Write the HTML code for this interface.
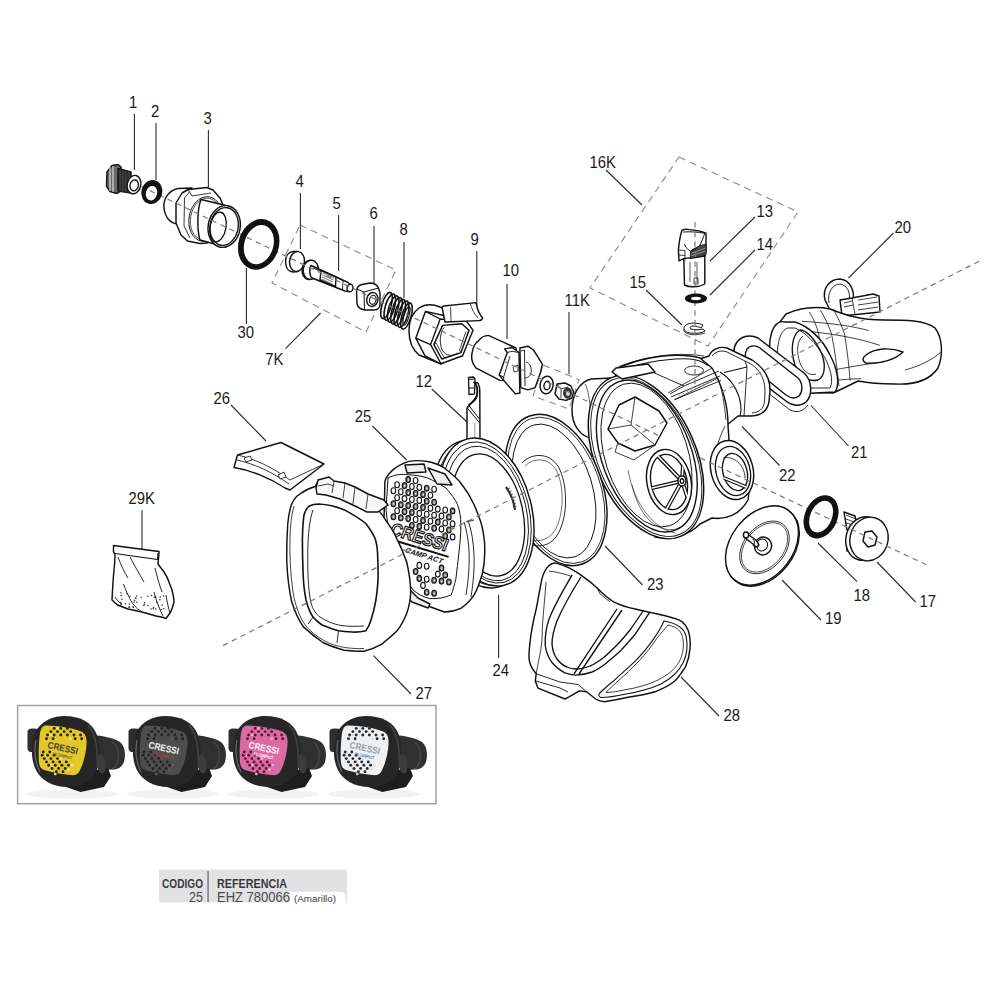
<!DOCTYPE html>
<html><head><meta charset="utf-8">
<style>
html,body{margin:0;padding:0;background:#fff;width:1000px;height:1000px;overflow:hidden}
svg{display:block}
text{font-family:"Liberation Sans",sans-serif;fill:#1a1a1a}
.lb{font-size:16px}
.ld{stroke:#2a2a2a;stroke-width:1.1;fill:none}
.ax{stroke:#7a7a7a;stroke-width:1.2;stroke-dasharray:5.5 4.3;fill:none}
.bx{stroke:#8a8a8a;stroke-width:1.1;stroke-dasharray:7 5;fill:none}
.o{stroke:#111;stroke-width:1.45;fill:#fff;stroke-linejoin:round}
.on{stroke:#111;stroke-width:1.35;fill:none;stroke-linejoin:round}
.t{stroke:#222;stroke-width:.9;fill:none}
.tw{stroke:#222;stroke-width:.9;fill:#fff}
.ring{stroke:#111;fill:none}
</style></head><body>
<svg width="1000" height="1000" viewBox="0 0 1000 1000">

<!-- DASHED KIT BOXES -->
<g id="boxes">
<polygon class="bx" points="300,225 396,270 366,332 272,283"/>
<polygon class="bx" points="679,157 798,212 708,346 590,288"/>
<polygon class="bx" points="543,365 579,379.5 569,409 533,396"/>
</g>
<!-- LEADERS -->
<g id="leaders">
<line class="ld" x1="134.4" y1="114" x2="134.4" y2="170"/>
<line class="ld" x1="156" y1="123" x2="156" y2="180"/>
<line class="ld" x1="208.4" y1="130" x2="208.4" y2="187"/>
<line class="ld" x1="300.4" y1="193" x2="300.4" y2="249"/>
<line class="ld" x1="338.6" y1="215" x2="338.6" y2="271"/>
<line class="ld" x1="374" y1="226" x2="374" y2="283"/>
<line class="ld" x1="404" y1="242" x2="404" y2="298"/>
<line class="ld" x1="476.8" y1="251" x2="476.8" y2="308"/>
<line class="ld" x1="507" y1="284" x2="507" y2="339"/>
<line class="ld" x1="569" y1="312" x2="569" y2="374"/>
<line class="ld" x1="246.4" y1="268" x2="246.4" y2="324"/>
<line class="ld" x1="285.5" y1="348.6" x2="320.6" y2="313"/>
<line class="ld" x1="431.8" y1="389" x2="467" y2="422"/>
<line class="ld" x1="606" y1="170" x2="642" y2="205"/>
<line class="ld" x1="755" y1="217" x2="710" y2="261"/>
<line class="ld" x1="755" y1="250" x2="710" y2="295"/>
<line class="ld" x1="646" y1="290" x2="682" y2="325"/>
<line class="ld" x1="893.5" y1="233" x2="848.5" y2="278"/>
<line class="ld" x1="848.5" y1="446" x2="811" y2="405.5"/>
<line class="ld" x1="779.5" y1="465.5" x2="742" y2="426.5"/>
<line class="ld" x1="642.5" y1="585" x2="605" y2="546"/>
<line class="ld" x1="719" y1="716" x2="681" y2="677"/>
<line class="ld" x1="821" y1="620" x2="782" y2="580"/>
<line class="ld" x1="857" y1="581.6" x2="818" y2="543"/>
<line class="ld" x1="915.6" y1="602" x2="877" y2="562"/>
<line class="ld" x1="231" y1="405" x2="266" y2="441"/>
<line class="ld" x1="142" y1="510" x2="142" y2="560"/>
<line class="ld" x1="372.4" y1="426" x2="406.6" y2="460"/>
<line class="ld" x1="498.6" y1="595" x2="498.6" y2="658"/>
<line class="ld" x1="411" y1="694" x2="373.5" y2="655.6"/>
</g>
<!-- LABELS -->
<g id="labels" class="lb">
<text transform="translate(129 108) scale(0.93 1)">1</text>
<text transform="translate(151 117) scale(0.93 1)">2</text>
<text transform="translate(203.5 124) scale(0.93 1)">3</text>
<text transform="translate(295.5 187) scale(0.93 1)">4</text>
<text transform="translate(332.5 209) scale(0.93 1)">5</text>
<text transform="translate(369.5 219) scale(0.93 1)">6</text>
<text transform="translate(399.5 235) scale(0.93 1)">8</text>
<text transform="translate(470.5 245) scale(0.93 1)">9</text>
<text transform="translate(502.5 276) scale(0.93 1)">10</text>
<text transform="translate(564.5 306) scale(0.93 1)">11K</text>
<text transform="translate(415.5 387) scale(0.93 1)">12</text>
<text transform="translate(756.5 217) scale(0.93 1)">13</text>
<text transform="translate(756.5 250) scale(0.93 1)">14</text>
<text transform="translate(629.5 288) scale(0.93 1)">15</text>
<text transform="translate(589.5 168) scale(0.93 1)">16K</text>
<text transform="translate(919.5 607) scale(0.93 1)">17</text>
<text transform="translate(853.5 601) scale(0.93 1)">18</text>
<text transform="translate(825 623.6) scale(0.93 1)">19</text>
<text transform="translate(894.5 233) scale(0.93 1)">20</text>
<text transform="translate(851 458) scale(0.93 1)">21</text>
<text transform="translate(779 480.5) scale(0.93 1)">22</text>
<text transform="translate(647 590) scale(0.93 1)">23</text>
<text transform="translate(492.5 676.3) scale(0.93 1)">24</text>
<text transform="translate(354.8 422.3) scale(0.93 1)">25</text>
<text transform="translate(213.5 404) scale(0.93 1)">26</text>
<text transform="translate(415.5 698.8) scale(0.93 1)">27</text>
<text transform="translate(723.5 721) scale(0.93 1)">28</text>
<text transform="translate(128.5 504) scale(0.93 1)">29K</text>
<text transform="translate(237.5 338) scale(0.93 1)">30</text>
<text transform="translate(265.2 364.8) scale(0.93 1)">7K</text>
</g>



<g id="p20">
<path class="o" d="M825,300 C822,288 830,279 840,279 C850,280 855,290 853,302 L850,312 L832,314 Z"/>
<path class="on" d="M829,303 C827,292 833,284 840,284 C847,285 851,292 849,302" style="stroke-width:.9"/>
<path class="o" d="M840,300 L852,298 L873,294 L879,296 L880,312 L842,316 Z"/>
<path class="on" d="M852,298 L855,314 M844,303 L852,301 M844,307 L853,305 M858,300 L877,297 M858,305 L878,302 M858,310 L878,307" style="stroke-width:.8"/>
<path class="o" d="M786,314 C800,308 815,306 830,309 C845,315 860,320 884,320 C905,320 925,320 935,328 C943,338 943,356 938,368 C930,380 915,385 895,384 C880,384 868,383 858,381 C850,385 840,390 833,393 L790,392 C778,380 772,350 774,330 Z"/>
<path class="on" d="M798.3,330.5 C830,333 858,338 879.7,345.3 M802,321.3 C830,323 852,326 868.6,330.5 M826,371.2 C845,368 865,364 883.4,362 M820.5,382.3 C835,380 850,379 861.2,378.6" style="stroke-width:.8"/>
<path class="on" d="M809.4,312 C813,318 817,326 818.7,334.2 C821,350 823,370 824.2,386 M820.5,310.2 C825,318 829,326 831.6,334.2 C835,350 837,370 839,386 M833.5,309.2 C838,318 842,326 844.6,334.2 C847,350 849,365 850.1,380.5" style="stroke-width:.8"/>
<path class="on" d="M905,370 C920,366 932,360 941,352" style="stroke-width:.8"/>
<path class="o" d="M866,355 C875,348 890,347 903,352 C895,360 880,364 866,363 C862,361 862,358 866,355 Z"/>
<path class="o" d="M785,322 C778,320 772,326 770,340 C768,360 772,385 780,390 C786,394 800,394 815,393 L835,392 C840,385 838,370 830,355 C822,338 808,326 795,322 Z"/>
<path class="on" d="M788,328 C780,330 776,345 778,362 C780,378 785,386 792,388 L830,388 C834,380 830,368 825,358 C815,342 805,332 795,328 Z" style="stroke-width:.9"/>
<path class="on" d="M800,330 C792,335 790,350 795,365 C800,378 810,382 818,380 C826,376 826,362 820,350 C814,338 806,330 800,330 Z"/>
<path class="on" d="M803,336 C797,340 796,352 800,363 C804,373 811,376 816,374" style="stroke-width:.8"/>

</g>
<g id="p21">
<path class="o" d="M737,342 C742,336 750,334 758,338 L804,373 C812,380 813,395 806,402 C800,407 792,406 786,401 L740,366 C733,360 732,349 737,342 Z"/>
<path class="on" d="M747,349 C750,345 756,345 760,348 L798,378 C803,383 803,392 799,396 C795,399 790,398 786,395 L750,366 C745,362 744,354 747,349 Z"/>
<path class="on" d="M733,352 C732,362 736,370 745,375 L790,410 C796,413 803,412 808,405" style="stroke-width:.9"/>
</g>
<g id="p22">
<!-- outlet tube -->
<path class="o" d="M690,362 L709,356 C712,349 720,346 727,348 L752,360 C763,367 770,377 770,390 L769,402 C767,412 760,416 750,416 L738,416 L727,425 L700,430 Z"/>
<path class="on" d="M712,356 C716,351 722,350 727,352 L751,364 C760,370 765,379 765,391 L764.5,402 C763.5,409 759,412.5 752,413 M745,361 L747,367 L744,416" style="stroke-width:.9"/>
<path class="on" d="M720,372 C733,380 741,395 741,410 L740,416 M724,372.5 L747,367" style="stroke-width:1.1"/>
<path class="on" d="M703,361 C712,372 718,395 716,420 M700,366 C706,378 710,395 710,422" style="stroke-width:.8"/>
<!-- back cylinder -->
<path class="o" d="M612,378 L591,379 C579,382 572,395 572,410 C572,425 580,437 594,439 L612,436 Z"/>
<path class="on" d="M585,384 C590,392 592,420 590,436" style="stroke-width:.7"/>
<!-- housing -->
<path class="o" d="M615,370 C640,356 680,352 700,358 L712,368 C722,385 728,405 728,425 L729,440 C740,460 752,480 748,500 C740,515 725,520 712,518 L700,524 C690,535 670,540 655,537 L640,500 L620,420 Z"/>
<path class="on" d="M615,370 L620,366 C650,355 680,352 704,356 M668,393 L712,368 M674,400 L718,378 C722,390 724,400 726,420 M725,426 C718,440 716,450 714,460" style="stroke-width:.8"/>
<path class="on" d="M615,372 C630,366 650,361 675,359 C690,358 700,359 708,365.6" style="stroke-width:1.1"/>
<ellipse class="on" cx="694" cy="370.5" rx="9.5" ry="4.5" style="stroke-width:.9"/>
<path class="on" d="M643,368 L684,386 L670,394 M684,386 L719,371" style="stroke-width:.9"/>
<path class="on" d="M671,397 L720,376 M675,399.5 L721,380.5" style="stroke-width:.9"/>
<path d="M678,393 l2,3 M682,391.3 l2,3 M686,389.6 l2,3 M690,387.9 l2,3 M694,386.2 l2,3 M698,384.5 l2,3 M702,382.8 l2,3 M706,381.1 l2,3 M710,379.4 l2,3 M714,377.7 l2,3" stroke="#666" stroke-width=".6"/>
<!-- exhaust port -->
<ellipse class="o" cx="732" cy="470" rx="21" ry="30" transform="rotate(-15 732 470)"/>
<ellipse class="on" cx="733" cy="471" rx="17" ry="25" transform="rotate(-15 733 471)"/>
<ellipse class="on" cx="735" cy="472" rx="12" ry="19" transform="rotate(-15 735 472)"/>
<path class="on" d="M723,458 C733,455 745,465 745,478" style="stroke-width:.8"/>
<path d="M724,478 L746,487" stroke="#111" stroke-width="3.6"/><path d="M724,478 L746,487" stroke="#fff" stroke-width="1.4"/>
<!-- front ring -->
<ellipse class="o" cx="646" cy="457" rx="50" ry="86.6" transform="rotate(-24 646 457)" style="stroke-width:1.5"/>
<ellipse class="on" cx="646.3" cy="457" rx="47.8" ry="84.3" transform="rotate(-24 646.3 457)" style="stroke-width:.9"/>
<ellipse class="on" cx="646.8" cy="456" rx="44.5" ry="79.5" transform="rotate(-21 646.8 456)" style="stroke-width:1.4"/>
<ellipse class="on" cx="646.5" cy="455" rx="41.4" ry="74.4" transform="rotate(-18 646.5 455)" style="stroke-width:.9"/>
<path class="o" d="M612,372 L616,368 L648,364 L655,372 L622,379 Z" style="fill:#fff"/>
<!-- inner hex -->
<path class="o" d="M608,429 L619,405 L635,397 L659,411 L667,423 L655,445 L635,451 L618,443 Z"/>
<path class="on" d="M635,397 L631,425 L608,429 M631,425 L655,445 M618,443 L615,452 L634,460 L655,445" style="stroke-width:.8"/>
<!-- wheel -->
<ellipse class="o" cx="669" cy="482" rx="22" ry="33" transform="rotate(-12 669 482)"/>
<ellipse class="on" cx="669" cy="482" rx="18" ry="28" transform="rotate(-12 669 482)"/>
<clipPath id="wcl"><ellipse cx="669" cy="482" rx="18.5" ry="28.5" transform="rotate(-12 669 482)"/></clipPath>
<g clip-path="url(#wcl)">
<path d="M682,481 L658,456 M682,481 L648,489 M682,481 L665,512 M682,481 L684,450 M682,481 L691,508" stroke="#111" stroke-width="4" fill="none"/>
<path d="M682,481 L658,456 M682,481 L648,489 M682,481 L665,512 M682,481 L684,450 M682,481 L691,508" stroke="#fff" stroke-width="1.6" fill="none"/>
</g>
<ellipse class="o" cx="682" cy="481" rx="4" ry="5"/>
<ellipse class="on" cx="682" cy="481" rx="1.8" ry="2.3"/>
<path class="on" d="M632,485 C640,520 660,535 680,528 M628,470 C634,505 655,530 676,533" style="stroke-width:.6"/>
</g>
<!-- PARTS: upper left -->
<g id="p1">
<path class="o" d="M107,172 L112,165.5 L118,164.5 L121,167 L121,191 L117,193.5 L110,191.5 L106.5,186 Z" style="fill:#6a6a6a"/>
<path class="t" d="M110,167 L110,191 M113,166 L113,192" style="stroke:#eee;stroke-width:1"/>
<path class="o" d="M118,168.5 L131,172 L131,193 L118,191 Z" style="fill:#2a2a2a"/>
<path d="M120,169.5 L120,191.5 M123,170 L123,192 M126,171 L126,192.5 M129,171.5 L129,193" stroke="#555" stroke-width=".8"/>
<ellipse class="o" cx="134" cy="184.6" rx="6.8" ry="9.3" transform="rotate(12 134 184.6)"/>
<ellipse class="on" cx="134.3" cy="185.3" rx="4.2" ry="5.5" transform="rotate(12 134 185)"/>
</g>

<g id="p3">
<path class="o" d="M192,188 L178,188.5 C169,190 163,199 164,208 C165,217 170,223.5 178,224 L190,224 Z"/>
<path class="o" d="M182,193 L188,189.5 L207,187.5 L213,190 L220,198 L223,205 L222,235 L207,243 L200,243.5 L187.5,241 L181,235 L176,223 L176,203 Z"/>
<path class="t" d="M184.5,198 L184,226 M184,226 L190,238 M184.5,198 L190,191.5 M188,189.5 L192,196 L211,193"/>
<ellipse class="on" cx="205.5" cy="219" rx="16.5" ry="22.5" transform="rotate(10 205.5 219)" style="stroke-width:.9"/>
<ellipse class="on" cx="205.5" cy="219" rx="15" ry="21" transform="rotate(10 205.5 219)" style="stroke-width:.7"/>
<path class="o" d="M201,199.5 L226,205.5 L226,247 L200,240 C197,230 197,210 201,199.5 Z"/>
<ellipse class="o" cx="224.2" cy="226.5" rx="16" ry="21" transform="rotate(10 224.2 226.5)"/>
<ellipse class="on" cx="224.2" cy="226.5" rx="14" ry="19" transform="rotate(10 224.2 226.5)"/>
<ellipse class="on" cx="218" cy="227" rx="8" ry="15" transform="rotate(10 218 227)"/>
</g>


<g id="p4">
<path class="o" d="M293,251.5 L298,251.5 L298,271.5 L293,272 C288,271.5 285.5,267 285.6,261.5 C285.7,256 288.5,252 293,251.5 Z"/>
<ellipse class="o" cx="297" cy="261.5" rx="7.4" ry="10" transform="rotate(8 297 261.5)"/>
</g>
<g id="p5">
<ellipse class="o" cx="309.5" cy="270" rx="7.4" ry="9.6" transform="rotate(8 309.5 270)"/>
<ellipse class="o" cx="310.8" cy="269.8" rx="7.6" ry="9.6" transform="rotate(8 310.8 269.8)"/>
<path class="o" d="M311,265.5 L348,282.5 L351,285 L348,291.5 L345,291 L312,278 C309.5,276 309,268 311,265.5 Z"/>
<path class="o" d="M321,270.5 L336,277 L335.5,286.5 L320,280 Z" style="fill:#fff"/>
<path d="M323,273 l11,5 M322.5,275 l11,5 M322,277 l11,5 M321.5,279 l11,5" stroke="#444" stroke-width=".7"/>
<path class="on" d="M336,277 L343,280.5 L342.5,289.5 M313,268 L320,271" style="stroke-width:.9"/>
<ellipse class="o" cx="350" cy="288" rx="3" ry="3.8" transform="rotate(10 350 288)"/>
</g>
<g id="p6">
<path class="o" d="M356.5,291 C357,287 359,285 362,284.5 L370,283 C374,283 377,285 378.5,288 L380,293 L380,305 C379.5,308 377.5,310 374,310 L365,310 C361,309.5 358,307.5 357,304 Z"/>
<path class="on" d="M357,289 L364,292 L378.5,288 M364,292 L364.5,309.5" style="stroke-width:1"/>
<ellipse class="o" cx="372.3" cy="299.5" rx="5.6" ry="7" transform="rotate(12 372.3 299.5)"/>
<ellipse class="on" cx="372.8" cy="299.8" rx="3.2" ry="4.6" transform="rotate(12 372.8 299.8)" style="stroke-width:1.1"/>
</g>
<g id="p8">
<ellipse cx="386.5" cy="305.5" rx="4.6" ry="13.6" transform="rotate(16 386.5 305.5)" fill="none" stroke="#111" stroke-width="1.6"/>
<ellipse cx="389.8" cy="307.2" rx="4.6" ry="13.6" transform="rotate(16 389.8 307.2)" fill="none" stroke="#111" stroke-width="1.6"/>
<ellipse cx="393.2" cy="309.0" rx="4.6" ry="13.6" transform="rotate(16 393.2 309.0)" fill="none" stroke="#111" stroke-width="1.6"/>
<ellipse cx="396.5" cy="310.8" rx="4.6" ry="13.6" transform="rotate(16 396.5 310.8)" fill="none" stroke="#111" stroke-width="1.6"/>
<ellipse cx="399.8" cy="312.5" rx="4.6" ry="13.6" transform="rotate(16 399.8 312.5)" fill="none" stroke="#111" stroke-width="1.6"/>
<ellipse cx="403.2" cy="314.2" rx="4.6" ry="13.6" transform="rotate(16 403.2 314.2)" fill="none" stroke="#111" stroke-width="1.6"/>
<ellipse cx="406.5" cy="316.0" rx="4.6" ry="13.6" transform="rotate(16 406.5 316.0)" fill="none" stroke="#111" stroke-width="1.6"/>
<ellipse cx="406.5" cy="316" rx="2.5" ry="9.5" transform="rotate(16 406.5 316)" fill="none" stroke="#111" stroke-width="1.1"/>
</g>
<g id="p9">
<path class="o" d="M440,307 C433,304 425,304 419,308 C412,313 409,322 409,331 C409,341 413,350 419,355 L441,364 L445,310 Z"/>
<path class="o" d="M425.4,311.4 L415.8,338.2 L425,355.8 L441,363.8 L462.6,355.8 L473,330.2 L466.6,321.4 L446,316 Z"/>
<path class="on" d="M425.4,311.4 L440.2,319 L430.6,344.6 L415.8,338.2 M430.6,344.6 L441,363.8 M440.2,319 L466.6,321.4"/>
<path class="o" d="M442.6,325.4 L433.8,344.6 L441.8,359 L461,352.6 L469,330.2 L461.8,323.8 Z"/>
<path class="on" d="M444,327.5 C440,333 439,342 442,350 C446,356 452,357 458,353" style="stroke-width:.9"/>
<path class="on" d="M433.8,344.6 L436,343 L444,357.5 M461,352.6 L459.5,350 L466,331.5" style="stroke-width:.8"/>
<path class="o" d="M442,307 L444,306 L476,302.6 C477,308 479,314 482.6,318 C482,320 480.6,320.6 479,320.6 L445,322 C444,317 443,312 442,307 Z"/>
<path class="on" d="M450.6,307 L451,321.5 M470,303 C472,309 474,314 478,318" style="stroke-width:.8"/>
</g>
<g id="p10">
<path class="o" d="M488.4,335.4 L516,348 L520,381 L500,380.4 L475.8,367.8 C472,363 471,357 472.2,352.5 C473,347 475,343 478.5,340.8 C481,337.5 485,335.5 488.4,335.4 Z"/>
<path class="o" d="M519.9,348 L528,346.2 L533.4,349.8 L542.4,364.2 L540.6,372.3 L535.2,387.6 L528,389.9 L520.8,387.6 Z"/>
<path class="on" d="M521,351 L524.5,350 L525,386 M526,362 C530,363 532,368 531,373 C530,377 527,378 524.5,378" style="stroke-width:.9"/>
<path class="o" d="M504.6,348.9 L512,347.5 L519,352.5 L519.9,393 L515.4,393.9 L503.7,380.4 L499.2,375 L507.3,352.5 Z"/>
<path class="on" d="M507.3,352.5 L512,351.3 L519,352.5 M499.2,375 L503.7,377 L510,356 M503.7,377 L503.7,380.4" style="stroke-width:.9"/>
<path class="on" d="M513,367 L518,365 L518,371 L514,372 Z" style="stroke-width:.8"/>
</g>
<g id="p11">
<ellipse class="o" cx="546.6" cy="385" rx="6.5" ry="8.8" transform="rotate(10 546.6 385)"/>
<ellipse class="on" cx="547" cy="385.5" rx="3" ry="4.3" transform="rotate(10 547 385.5)"/>
<path class="o" d="M557,384 L565,383 L571,386 L573.6,392 L572,398 L566,400.4 L559,399 L555,394 Z" style="fill:#fff"/>
<path class="on" d="M557,384 L561,389 L561,398 M561,389 L568,387" style="stroke-width:.8"/>
<ellipse cx="567.5" cy="393" rx="4.5" ry="5.8" fill="#333"/>
<ellipse cx="568" cy="393.5" rx="2" ry="2.6" fill="#ddd"/>
</g>
<g id="p12">
<path class="o" d="M467,408 L473,401 C476,398 477.5,395 477.5,391 C477.5,387 476,384 474,382 L478,383 C480,387 480,390 479.8,393 L480,440 L467,440 Z"/>
<path class="on" d="M467.3,408 L479.3,422.5 M468.5,405 L479.5,419" style="stroke-width:1"/>
<path class="on" d="M474.8,423 L474.8,439" style="stroke:#888;stroke-width:.8"/>
<path d="M468.5,377.5 L473.5,377 L475,379 L474.5,394 L469,394.5 Z" fill="#fff" stroke="#111" stroke-width="1.3"/>
<path d="M468.5,379.5 L474.5,379 M469,388 L474,388" stroke="#111" stroke-width="1.2"/>
<path class="on" d="M473.5,382 C477,385 478,390 477,396 C476,400 472,403 468.5,405" style="stroke-width:1.6"/>
</g>


<g id="p13">
<path class="o" d="M683.8,257 L704.8,256 L704.8,284 C699,287.5 689,287.5 684.5,285 Z"/>
<path class="on" d="M690,262 L690,282 M697,262 L697,283" style="stroke-width:.7"/>
<path class="on" d="M694,278 L694,284 L698,284 L698,278 Z" style="stroke-width:.8"/>
<path class="o" d="M682,230.2 C685,229 687,229.2 689.2,229.6 C695,230 701,231 706,233.2 L706,251.2 L704.8,256 C698,257.5 690,258.2 684.4,258.4 L679,260.8 L678.4,250 C679,243 680,236 682,230.2 Z"/>
<path d="M690.4,251.2 C694,248 700,245.5 706,244 L706,254.8 C701,256.5 695,257.8 690.4,258.4 Z" fill="#444" stroke="#111" stroke-width=".8"/>
<path d="M691,253.5 L705.5,248 M691,256 L705.5,251" stroke="#bbb" stroke-width=".6"/>
<path class="on" d="M683.2,232 C690,231.5 698,232 704.8,233.2 C703,238 701.5,242 700,245.2 C697,248 693.5,250 690.4,251.2 C687,249 685.5,247 684.4,244" style="stroke-width:1"/>
<path class="on" d="M679,250 L685,250.5 L685,260.5 M679,255 L685,255.5" style="stroke-width:.8"/>
</g>

<g id="p15">
<path class="o" d="M703,325 C699,323 690,322 686,325 C682,328 684,332 690,333 C696,334 702,333 705,331 L703,329 C700,330 694,330 691,329 C689,328 690,326 693,326 C696,326 699,327 701,328 Z" style="stroke-width:1"/>
<path class="on" d="M684,329 L684,331 C686,335 696,336 705,333" style="stroke-width:.8"/>
</g>
<g id="p23">
<ellipse class="o" cx="556" cy="490" rx="46.3" ry="78.5" transform="rotate(-19.6 556 490)"/>
<ellipse class="on" cx="556.3" cy="490.3" rx="44" ry="76" transform="rotate(-19.6 556.3 490.3)" style="stroke-width:.8"/>
<ellipse class="on" cx="554" cy="491" rx="38.5" ry="69" transform="rotate(-17 554 491)" style="stroke-width:.9"/>
<path class="on" d="M522,463 C532,452 552,452 560,470 C568,488 568,520 556,537 C546,550 528,548 520,536" style="stroke-width:.9"/>
<path class="on" d="M525,466 C535,456 552,458 558,474 C565,492 563,520 553,533 C545,543 530,543 523,533" style="stroke-width:.6"/>
</g>
<g id="p24">
<ellipse class="o" cx="480" cy="514" rx="45.7" ry="75.4" transform="rotate(-14 480 514)"/>
<ellipse class="on" cx="482" cy="513.5" rx="44" ry="73.5" transform="rotate(-14 482 513.5)" style="stroke-width:.8"/>
<ellipse class="o" cx="486" cy="512" rx="45.7" ry="75.4" transform="rotate(-14 486 512)"/>
<ellipse class="on" cx="486.5" cy="512.5" rx="42.5" ry="72" transform="rotate(-14 486.5 512.5)" style="stroke-width:.9"/>
<ellipse class="on" cx="487" cy="513.5" rx="39.5" ry="68.5" transform="rotate(-13 487 513.5)" style="stroke-width:.9"/>
<ellipse class="on" cx="488" cy="515" rx="35" ry="62" transform="rotate(-12 488 515)" style="stroke-width:1.3"/>
<path class="on" d="M506,487 C511,494 514,502 515,510" style="stroke-width:2.2;stroke:#333"/>
<path d="M507,489 l3,-1 M508.5,492 l3,-1 M510,495 l3,-1 M511,498 l3,-1 M512,501 l3,-1 M513,504 l3,-1 M513.5,507 l3,-1" stroke="#333" stroke-width=".8"/>
</g>

<g id="p25">
<path class="o" d="M384.9,481.4 C387,474 395,466 408,461.6 C420,459 435,462 444.3,468 C452,474 458,479 460.8,483 C468,492 471,498 474,504.5 C478,514 481,521 482.3,527.6 C484,536 485,543 484.7,549 C485,560 484,567 482.3,573.8 C480,582 477,590 474,595.2 C470,601 466,605 460.8,608.4 C455,611 450,612 444.3,612 L420,603 L390,580 L384,520 Z"/>
<path class="on" d="M388,478 C396,474 402,474 408,474.8 C415,475 421,476 427.8,478 C434,481 440,484 446,488 C451,494 455,499 457.5,504.5 C460,512 461,518 460.8,524 C461,534 460,543 459,552 C458,561 457,570 455.9,578.7 C454,586 453,591 451,595 C444,598 437,599 429.5,598.5 C423,597 418,594 413,590 L392,560 L386,510 Z" style="stroke-width:1"/>
<path class="on" d="M464,522 C470,540 471,565 466,595 M468,520 C475,540 476,568 471,597 M474,520 L466,522" style="stroke-width:.9"/>
<path class="o" d="M405,465 L424,464 L426,472 L407,473 Z" style="fill:#eee"/>
<path class="o" d="M428,468 L445,474 L452,485 L437,484 Z" style="fill:#eee"/>
<ellipse cx="408.2" cy="479.6" rx="2.3" ry="3.0" fill="#777" stroke="#111" stroke-width="1.1"/><ellipse cx="408.4" cy="479.9" rx="0.8" ry="1.3" fill="#ddd"/>
<ellipse cx="415.6" cy="480.5" rx="2.3" ry="3.0" fill="#fff" stroke="#111" stroke-width="1.1"/>
<ellipse cx="397.1" cy="484.8" rx="2.3" ry="3.0" fill="#fff" stroke="#111" stroke-width="1.1"/>
<ellipse cx="404.5" cy="485.6" rx="2.3" ry="3.0" fill="#777" stroke="#111" stroke-width="1.1"/><ellipse cx="404.7" cy="485.9" rx="0.8" ry="1.3" fill="#ddd"/>
<ellipse cx="411.9" cy="486.5" rx="2.3" ry="3.0" fill="#fff" stroke="#111" stroke-width="1.1"/>
<ellipse cx="419.3" cy="487.4" rx="2.3" ry="3.0" fill="#fff" stroke="#111" stroke-width="1.1"/>
<ellipse cx="426.7" cy="488.3" rx="2.3" ry="3.0" fill="#777" stroke="#111" stroke-width="1.1"/><ellipse cx="426.9" cy="488.6" rx="0.8" ry="1.3" fill="#ddd"/>
<ellipse cx="434.1" cy="489.2" rx="2.3" ry="3.0" fill="#fff" stroke="#111" stroke-width="1.1"/>
<ellipse cx="393.4" cy="490.8" rx="2.3" ry="3.0" fill="#fff" stroke="#111" stroke-width="1.1"/>
<ellipse cx="400.8" cy="491.7" rx="2.3" ry="3.0" fill="#fff" stroke="#111" stroke-width="1.1"/>
<ellipse cx="408.2" cy="492.6" rx="2.3" ry="3.0" fill="#777" stroke="#111" stroke-width="1.1"/><ellipse cx="408.4" cy="492.9" rx="0.8" ry="1.3" fill="#ddd"/>
<ellipse cx="415.6" cy="493.5" rx="2.3" ry="3.0" fill="#777" stroke="#111" stroke-width="1.1"/><ellipse cx="415.8" cy="493.8" rx="0.8" ry="1.3" fill="#ddd"/>
<ellipse cx="423.0" cy="494.4" rx="2.3" ry="3.0" fill="#777" stroke="#111" stroke-width="1.1"/><ellipse cx="423.2" cy="494.7" rx="0.8" ry="1.3" fill="#ddd"/>
<ellipse cx="430.4" cy="495.2" rx="2.3" ry="3.0" fill="#fff" stroke="#111" stroke-width="1.1"/>
<ellipse cx="397.1" cy="497.8" rx="2.3" ry="3.0" fill="#fff" stroke="#111" stroke-width="1.1"/>
<ellipse cx="404.5" cy="498.6" rx="2.3" ry="3.0" fill="#fff" stroke="#111" stroke-width="1.1"/>
<ellipse cx="411.9" cy="499.5" rx="2.3" ry="3.0" fill="#fff" stroke="#111" stroke-width="1.1"/>
<ellipse cx="419.3" cy="500.4" rx="2.3" ry="3.0" fill="#fff" stroke="#111" stroke-width="1.1"/>
<ellipse cx="426.7" cy="501.3" rx="2.3" ry="3.0" fill="#777" stroke="#111" stroke-width="1.1"/><ellipse cx="426.9" cy="501.6" rx="0.8" ry="1.3" fill="#ddd"/>
<ellipse cx="434.1" cy="502.2" rx="2.3" ry="3.0" fill="#777" stroke="#111" stroke-width="1.1"/><ellipse cx="434.3" cy="502.5" rx="0.8" ry="1.3" fill="#ddd"/>
<ellipse cx="393.4" cy="503.8" rx="2.3" ry="3.0" fill="#777" stroke="#111" stroke-width="1.1"/><ellipse cx="393.6" cy="504.1" rx="0.8" ry="1.3" fill="#ddd"/>
<ellipse cx="400.8" cy="504.7" rx="2.3" ry="3.0" fill="#777" stroke="#111" stroke-width="1.1"/><ellipse cx="401.0" cy="505.0" rx="0.8" ry="1.3" fill="#ddd"/>
<ellipse cx="408.2" cy="505.6" rx="2.3" ry="3.0" fill="#777" stroke="#111" stroke-width="1.1"/><ellipse cx="408.4" cy="505.9" rx="0.8" ry="1.3" fill="#ddd"/>
<ellipse cx="415.6" cy="506.5" rx="2.3" ry="3.0" fill="#777" stroke="#111" stroke-width="1.1"/><ellipse cx="415.8" cy="506.8" rx="0.8" ry="1.3" fill="#ddd"/>
<ellipse cx="423.0" cy="507.4" rx="2.3" ry="3.0" fill="#777" stroke="#111" stroke-width="1.1"/><ellipse cx="423.2" cy="507.7" rx="0.8" ry="1.3" fill="#ddd"/>
<ellipse cx="430.4" cy="508.2" rx="2.3" ry="3.0" fill="#fff" stroke="#111" stroke-width="1.1"/>
<ellipse cx="437.8" cy="509.1" rx="2.3" ry="3.0" fill="#fff" stroke="#111" stroke-width="1.1"/>
<ellipse cx="445.2" cy="510.0" rx="2.3" ry="3.0" fill="#fff" stroke="#111" stroke-width="1.1"/>
<ellipse cx="452.6" cy="510.9" rx="2.3" ry="3.0" fill="#777" stroke="#111" stroke-width="1.1"/><ellipse cx="452.8" cy="511.2" rx="0.8" ry="1.3" fill="#ddd"/>
<ellipse cx="397.1" cy="510.8" rx="2.3" ry="3.0" fill="#fff" stroke="#111" stroke-width="1.1"/>
<ellipse cx="404.5" cy="511.6" rx="2.3" ry="3.0" fill="#777" stroke="#111" stroke-width="1.1"/><ellipse cx="404.7" cy="511.9" rx="0.8" ry="1.3" fill="#ddd"/>
<ellipse cx="411.9" cy="512.5" rx="2.3" ry="3.0" fill="#777" stroke="#111" stroke-width="1.1"/><ellipse cx="412.1" cy="512.8" rx="0.8" ry="1.3" fill="#ddd"/>
<ellipse cx="419.3" cy="513.4" rx="2.3" ry="3.0" fill="#fff" stroke="#111" stroke-width="1.1"/>
<ellipse cx="426.7" cy="514.3" rx="2.3" ry="3.0" fill="#fff" stroke="#111" stroke-width="1.1"/>
<ellipse cx="434.1" cy="515.2" rx="2.3" ry="3.0" fill="#fff" stroke="#111" stroke-width="1.1"/>
<ellipse cx="441.5" cy="516.1" rx="2.3" ry="3.0" fill="#fff" stroke="#111" stroke-width="1.1"/>
<ellipse cx="448.9" cy="517.0" rx="2.3" ry="3.0" fill="#777" stroke="#111" stroke-width="1.1"/><ellipse cx="449.1" cy="517.3" rx="0.8" ry="1.3" fill="#ddd"/>
<ellipse cx="393.4" cy="516.8" rx="2.3" ry="3.0" fill="#777" stroke="#111" stroke-width="1.1"/><ellipse cx="393.6" cy="517.1" rx="0.8" ry="1.3" fill="#ddd"/>
<ellipse cx="400.8" cy="517.7" rx="2.3" ry="3.0" fill="#777" stroke="#111" stroke-width="1.1"/><ellipse cx="401.0" cy="518.0" rx="0.8" ry="1.3" fill="#ddd"/>
<ellipse cx="408.2" cy="518.6" rx="2.3" ry="3.0" fill="#777" stroke="#111" stroke-width="1.1"/><ellipse cx="408.4" cy="518.9" rx="0.8" ry="1.3" fill="#ddd"/>
<ellipse cx="415.6" cy="519.5" rx="2.3" ry="3.0" fill="#fff" stroke="#111" stroke-width="1.1"/>
<ellipse cx="423.0" cy="520.4" rx="2.3" ry="3.0" fill="#777" stroke="#111" stroke-width="1.1"/><ellipse cx="423.2" cy="520.7" rx="0.8" ry="1.3" fill="#ddd"/>
<ellipse cx="430.4" cy="521.2" rx="2.3" ry="3.0" fill="#fff" stroke="#111" stroke-width="1.1"/>
<ellipse cx="437.8" cy="522.1" rx="2.3" ry="3.0" fill="#777" stroke="#111" stroke-width="1.1"/><ellipse cx="438.0" cy="522.4" rx="0.8" ry="1.3" fill="#ddd"/>
<ellipse cx="445.2" cy="523.0" rx="2.3" ry="3.0" fill="#fff" stroke="#111" stroke-width="1.1"/>
<ellipse cx="452.6" cy="523.9" rx="2.3" ry="3.0" fill="#fff" stroke="#111" stroke-width="1.1"/>
<ellipse cx="411.9" cy="525.5" rx="2.3" ry="3.0" fill="#777" stroke="#111" stroke-width="1.1"/><ellipse cx="412.1" cy="525.8" rx="0.8" ry="1.3" fill="#ddd"/>
<ellipse cx="419.3" cy="526.4" rx="2.3" ry="3.0" fill="#777" stroke="#111" stroke-width="1.1"/><ellipse cx="419.5" cy="526.7" rx="0.8" ry="1.3" fill="#ddd"/>
<ellipse cx="426.7" cy="527.3" rx="2.3" ry="3.0" fill="#fff" stroke="#111" stroke-width="1.1"/>
<ellipse cx="434.1" cy="528.2" rx="2.3" ry="3.0" fill="#777" stroke="#111" stroke-width="1.1"/><ellipse cx="434.3" cy="528.5" rx="0.8" ry="1.3" fill="#ddd"/>
<ellipse cx="441.5" cy="529.1" rx="2.3" ry="3.0" fill="#fff" stroke="#111" stroke-width="1.1"/>
<ellipse cx="448.9" cy="530.0" rx="2.3" ry="3.0" fill="#777" stroke="#111" stroke-width="1.1"/><ellipse cx="449.1" cy="530.3" rx="0.8" ry="1.3" fill="#ddd"/>
<ellipse cx="445.2" cy="536.0" rx="2.3" ry="3.0" fill="#777" stroke="#111" stroke-width="1.1"/><ellipse cx="445.4" cy="536.3" rx="0.8" ry="1.3" fill="#ddd"/>
<ellipse cx="452.6" cy="536.9" rx="2.3" ry="3.0" fill="#fff" stroke="#111" stroke-width="1.1"/>
<ellipse cx="400.8" cy="556.7" rx="2.3" ry="3.0" fill="#fff" stroke="#111" stroke-width="1.1"/>
<ellipse cx="404.5" cy="563.6" rx="2.3" ry="3.0" fill="#777" stroke="#111" stroke-width="1.1"/><ellipse cx="404.7" cy="563.9" rx="0.8" ry="1.3" fill="#ddd"/>
<ellipse cx="419.3" cy="565.4" rx="2.3" ry="3.0" fill="#fff" stroke="#111" stroke-width="1.1"/>
<ellipse cx="426.7" cy="566.3" rx="2.3" ry="3.0" fill="#fff" stroke="#111" stroke-width="1.1"/>
<ellipse cx="441.5" cy="568.1" rx="2.3" ry="3.0" fill="#777" stroke="#111" stroke-width="1.1"/><ellipse cx="441.7" cy="568.4" rx="0.8" ry="1.3" fill="#ddd"/>
<ellipse cx="415.6" cy="571.5" rx="2.3" ry="3.0" fill="#777" stroke="#111" stroke-width="1.1"/><ellipse cx="415.8" cy="571.8" rx="0.8" ry="1.3" fill="#ddd"/>
<ellipse cx="437.8" cy="574.1" rx="2.3" ry="3.0" fill="#fff" stroke="#111" stroke-width="1.1"/>
<ellipse cx="445.2" cy="575.0" rx="2.3" ry="3.0" fill="#777" stroke="#111" stroke-width="1.1"/><ellipse cx="445.4" cy="575.3" rx="0.8" ry="1.3" fill="#ddd"/>
<ellipse cx="419.3" cy="578.4" rx="2.3" ry="3.0" fill="#777" stroke="#111" stroke-width="1.1"/><ellipse cx="419.5" cy="578.7" rx="0.8" ry="1.3" fill="#ddd"/>
<ellipse cx="426.7" cy="579.3" rx="2.3" ry="3.0" fill="#fff" stroke="#111" stroke-width="1.1"/>
<ellipse cx="434.1" cy="580.2" rx="2.3" ry="3.0" fill="#777" stroke="#111" stroke-width="1.1"/><ellipse cx="434.3" cy="580.5" rx="0.8" ry="1.3" fill="#ddd"/>
<ellipse cx="441.5" cy="581.1" rx="2.3" ry="3.0" fill="#777" stroke="#111" stroke-width="1.1"/><ellipse cx="441.7" cy="581.4" rx="0.8" ry="1.3" fill="#ddd"/>
<ellipse cx="448.9" cy="582.0" rx="2.3" ry="3.0" fill="#777" stroke="#111" stroke-width="1.1"/><ellipse cx="449.1" cy="582.3" rx="0.8" ry="1.3" fill="#ddd"/>
<ellipse cx="423.0" cy="585.4" rx="2.3" ry="3.0" fill="#fff" stroke="#111" stroke-width="1.1"/>
<ellipse cx="426.7" cy="592.3" rx="2.3" ry="3.0" fill="#777" stroke="#111" stroke-width="1.1"/><ellipse cx="426.9" cy="592.6" rx="0.8" ry="1.3" fill="#ddd"/>
<ellipse cx="434.1" cy="593.2" rx="2.3" ry="3.0" fill="#777" stroke="#111" stroke-width="1.1"/><ellipse cx="434.3" cy="593.5" rx="0.8" ry="1.3" fill="#ddd"/>
<g transform="translate(389,534) rotate(17) skewX(-4)">
<text x="0" y="0" textLength="59" lengthAdjust="spacingAndGlyphs" style="font-size:17.5px;font-weight:bold;fill:#fff;stroke:#111;stroke-width:1.2">CRESSI</text>
<line x1="6" y1="4.5" x2="64" y2="4.5" stroke="#111" stroke-width="2"/>
<text x="14" y="13" style="font-size:7.5px;font-weight:bold;font-style:italic;fill:#111">L-CAMP ACT</text>
</g>
<path class="o" d="M410,590 L418,598 L430,604 L428,608 L412,602 L404,594 Z" style="fill:#eee"/>
</g>
<g id="p27">
<path class="o" d="M291.7,504 C294,499 296,496 299.5,494.3 C305,490 310,488 315.1,486.5 L319,479.6 L373.6,504 C378,510 382,514 385.3,519.6 C390,526 394,532 397,539.1 C401,547 404,554 406.8,562.5 C409,572 410.5,582 410.7,591.8 C410.5,600 409,607 406.8,613.2 C404,620 401,626 397,630.8 C392,636 387,640 381.4,644.4 C375,648 369,650 363.9,651.2 C357,651.5 351,651 344.4,650.3 C336,648 329,645.5 322.9,642.5 C315,637 309,632 303.4,626.9 C298,619 294.5,611 291.7,601.5 C289,590 287.5,576 286.8,562.5 C286.5,548 287,535 287.8,523.5 C288.5,515 290,509 291.7,504 Z"/>
<path class="on" d="M294,506 C291.5,515 290.3,525 290,537 C289.5,555 290.5,575 293,592 C295.5,607 300,618 306,626 C312,633 320,639 330,643.5 C340,647.5 352,649 364,648.5" style="stroke-width:.8"/>
<path class="o" d="M309.3,506 C312,504.5 315,504 319,504 C328,504.5 336,506.5 344.4,509.9 C352,514 359,518 365.8,523.5 C370,529 373.5,534 375.6,540 C377,545 377.5,549 377.5,552.8 C378,562 378.3,571 378,580 C377.5,588 376.8,595 375.6,601.5 C374.5,608 373,614 371,620 C369.5,625 368,628 365.8,630.8 C361,632 357,632.3 352,632 C347,631.8 343,631.5 338.5,630.8 C332,629 327,627 322,625 C318.5,622.5 315.5,620 313,617 C309.5,612 307.5,606 306,600 C304,590 303.2,580 303,570 C302.6,560 302.4,550 302.4,540 C302.5,530 303,522 304,515 C305,511 306.8,508 309.3,506 Z" style="stroke-width:1.6"/>
<path class="on" d="M313,510 C309.5,520 308,535 307.8,550 C307.6,570 308,590 311,603 C313,610 316,614 320,617 C326,621 333,624 341,625.5 C349,626.5 357,626.5 364,626" style="stroke-width:.9"/>
<path class="on" d="M313,617 L308,624 M338.5,630.8 L337,643" style="stroke-width:.9"/>
<path class="o" d="M316,488 L318,480 L329,477 L334,481 L345,483 L355,487 L368,494 L384,500 L388,505 L378,512 L367,512 L355,506 L340,499 L326,495 L317,494 Z" style="fill:#f8f8f8"/>
<path class="on" d="M334,481 L332,493 M345,483 L343,498 M355,487 L353,504 M368,494 L366,509 M318,486 L328,484 L334,486" style="stroke-width:.8"/>
</g>

<g id="p19">
<ellipse class="o" cx="762.8" cy="546.5" rx="31" ry="44" transform="rotate(38 762.8 546.5)"/>
<ellipse class="o" cx="762" cy="545.5" rx="31" ry="44" transform="rotate(38 762 545.5)"/>
<ellipse class="on" cx="764.5" cy="547.4" rx="20.7" ry="29.7" transform="rotate(40 764.5 547.4)" style="stroke-width:.8"/>
<ellipse class="on" cx="764.5" cy="547.4" rx="19" ry="28" transform="rotate(40 764.5 547.4)" style="stroke-width:.7"/>
<ellipse class="o" cx="763" cy="546" rx="8.5" ry="9" transform="rotate(18 763 546)"/>
<ellipse class="on" cx="762" cy="545" rx="5.5" ry="6" transform="rotate(18 762 545)" style="stroke-width:1"/>
<path class="o" d="M746,533 L756,540 L759,545 L756,547 L753,544 L744.5,537.5 Z"/>
<ellipse class="o" cx="746" cy="535" rx="2.6" ry="3"/>
<path class="on" d="M753,539 C755,541 755,544 753,545.5 M757,541.5 C759,543 759,546 757,548" style="stroke-width:1"/>
</g>

<g id="p17">
<path class="o" d="M844,512 L855,516 L858,530 L847,530 Z"/>
<path class="on" d="M846,515 L856,519 M846,519 L857,523 M846,523 L857,526" style="stroke-width:.8"/>
<path class="o" d="M847,540 L858,538 L859,549 L847,551 Z"/>
<ellipse class="o" cx="864" cy="538.5" rx="18" ry="22" transform="rotate(15 864 538.5)"/>
<path class="on" d="M853,530 L855,552" style="stroke-width:.8"/>
<ellipse class="o" cx="869" cy="539" rx="19" ry="22" transform="rotate(15 869 539)"/>
<path class="o" d="M865,532 L872,531 L877,537 L875,545 L868,547 L863,541 Z"/>
</g>
<g id="p26">
<path class="o" d="M237.5,455 L281,442.5 L324,464 L290,490 L285,488 C270,478 250,470 234,467.5 Z"/>
<path class="t" d="M237,460 C255,464 272,472 289,484 M237.5,455 C255,459 272,467 290,480 L324,464"/>
<path class="tw" d="M244,458 L250,456 L252,460 L246,462 Z M278,475 L284,472 L286,477 L280,479 Z"/>
</g>
<g id="p29">
<path class="o" d="M113.5,545.5 L159,551.5 L159,553 L158,564 C160,567 162,569 164,572 C166,575 168,579 169,582 C170,585 171,587 172,590 C173,594 174,598 174,602 C173,606 172,610 170,613 L166,618.5 C163,617 159,616.5 156,616 L142,612 L128,609 L117.5,605 L112,600 C112.5,590 113,580 114,570 C114.5,565 115,559 115,554 L113.5,552 Z"/>
<path class="on" d="M115,553.5 L157.5,559.5 M158,553 L157.5,560" style="stroke-width:1.1"/>
<path class="on" d="M118,557 C121,565 124,572 128,578 M130,557 C134,565 139,573 144,582 M123.5,584 C127,593 130,600 133,604 C136,608 139,610 142,612 M155,568 C157,576 159,584 162,592 M154,592 C156,600 159,608 163,616 M166,595 C167,601 168,607 170,613 M115,597 C117,600 119,602 121,604" style="stroke-width:.9"/>
<path d="M147.4,605.3 l1.3,0.3 M155.0,608.9 l1.3,0.3 M152.6,608.4 l1.3,0.3 M121.3,599.1 l1.3,0.3 M161.5,605.1 l1.3,0.3 M159.6,596.9 l1.3,0.3 M140.6,597.3 l1.3,0.3 M143.9,602.5 l1.3,0.3 M120.6,595.3 l1.3,0.3 M132.3,606.7 l1.3,0.3 M153.7,597.1 l1.3,0.3 M155.1,596.9 l1.3,0.3 M147.2,596.1 l1.3,0.3 M120.1,605.1 l1.3,0.3 M129.2,596.0 l1.3,0.3 M163.2,608.5 l1.3,0.3 M132.7,607.4 l1.3,0.3 M143.7,604.1 l1.3,0.3 M129.0,606.8 l1.3,0.3 M150.4,608.9 l1.3,0.3 M159.3,599.6 l1.3,0.3 M135.9,595.8 l1.3,0.3 M126.4,593.5 l1.3,0.3 M133.3,602.1 l1.3,0.3 M120.1,602.2 l1.3,0.3 M134.9,597.8 l1.3,0.3 M156.0,602.1 l1.3,0.3 M133.9,600.3 l1.3,0.3 M151.0,595.3 l1.3,0.3 M162.9,595.8 l1.3,0.3 M153.0,607.3 l1.3,0.3 M120.8,603.9 l1.3,0.3 M136.1,602.0 l1.3,0.3 M120.4,592.7 l1.3,0.3 M128.0,607.0 l1.3,0.3 M128.6,604.0 l1.3,0.3 M160.9,609.4 l1.3,0.3 M135.2,598.5 l1.3,0.3 M143.1,605.5 l1.3,0.3 M124.8,603.6 l1.3,0.3" stroke="#333" stroke-width="1.2"/>
</g>
<g id="p28">
<path class="o" d="M548.8,565.8 C551,563.5 553.5,562.8 556,563.1 C560,564 565,566 568.6,567.6 C574,570.5 579,573.5 583,576.6 C588,580 593,584 597.4,588.3 C602,593 607,598 613.6,601.8 C620,605 628,607.5 635.2,609 C641,610.5 646,611.5 651.4,612.6 C660,614.5 667,616 673,618 C677,619 680,620.2 682,621.6 C685,624 687,627 688.3,630.6 C690,636 690.5,642 690,648.6 C689.5,655 688,661 685.6,666.6 C682,672 679,677 674.8,681 C669,686 662,689 655,691.8 C646,694.5 637,696 628,697.2 C620,699 612,700.5 604.6,701.7 C601,701.5 598,700.5 595.6,699 L586.6,691.8 L579.4,690.9 L568.6,697.2 L565,699 L538,688.2 L535.3,681 L536.2,673.8 C533,670 531,667 529.9,663 C529,660 528.8,657 529,654 C529.3,648 530,642 530.8,636 C532,627 534,618 536.2,609 C538,599 539.8,590 541.6,580.2 C543,574 545.5,569 548.8,565.8 Z"/>
<path class="on" d="M572.2,574.8 C562,592 553,608 548.8,619.8 C546,628 545,637 545.2,645 C546,652 548.5,658 552.4,663 C556,667 560,670.5 565,672.9 C569,674.5 572,675 575.8,675.2 C581,675 586.5,674 592,672 C597,670 602,666.5 606.4,663 C611,659 616,655 620.8,650.4 C626,645 631,639 635.2,634.2 C640,627 645,619 649.6,612.6"/>
<path class="on" d="M581,577 C571,593 562,609 557,621 C554,629 552,637 552,644 C552.5,650 554,655 557,659 C560,663 563,665.5 567,667 C570,668.5 573,669 576,669 C581,669 585.5,668 590,666 C595,664 599,661 603,658 C608,654 612,650 616,646 C621,641 626,635 630,630 C635,623 639,617 643,611"/>
<path class="on" d="M617,609 L574,673.8 M622,610 L579,674"/>
<path class="on" d="M664,621 C676,623 684,628 686,636 C688,645 687,655 683,663 C679,671 672,678 661,684 C650,689 638,692 626,694 C617,696 608,697.5 601,697.5 C599,697 598.5,695 599.2,693.6 C604,689 608,685 613.6,681 C620,675 628,668 635.2,661.2 C642,654 648,647 653.2,639.6 C657,634 661,628 664,621 Z" style="stroke-width:1.1"/>
<path class="on" d="M668,625 C678,627 682,632 683,639 C684,647 683,655 679,662 C675,669 668,675 658,680 C648,685 636,688 624,690 C617,691.5 611,692.5 606,692.5 C610,688 614,685 618,681 C625,675 632,668 639,661 C646,653 652,646 657,638 C661,633 665,629 668,625 Z" style="stroke-width:.8"/>
<path class="on" d="M549,571 C557,572 565,574 572,576.6 M546,582 C545,600 542,620 542,640 C541,652 538,662 536.2,673.8" style="stroke-width:.8"/>
<path class="on" d="M536,681 L560,688 L568,692 M536.2,673.8 L560,682 L578,684.5 L586.6,691.8" style="stroke-width:.9"/>
<path class="on" d="M597.4,588.3 L600,594 L610,602" style="stroke-width:.8"/>
</g>
<!-- AXES -->
<g id="axes">
<line class="ax" x1="141" y1="186.3" x2="660" y2="436.3"/>
<line class="ax" x1="223" y1="645.6" x2="980" y2="260.8"/>
<line class="ax" x1="695" y1="222" x2="695" y2="385"/>
<line class="ax" x1="700" y1="457.8" x2="926.4" y2="564.8"/>
</g>
<g id="p2">
<path fill="#111" fill-rule="evenodd" d="M141.3,192 a10.5,12 0 1,0 21,0 a10.5,12 0 1,0 -21,0 Z M146.2,193.2 a5.6,7.3 0 1,0 11.2,0 a5.6,7.3 0 1,0 -11.2,0 Z" transform="rotate(14 151.8 192)"/>
</g>
<g id="p30">
<path fill="#111" fill-rule="evenodd" d="M238.5,244.4 a20.2,25.8 0 1,0 40.4,0 a20.2,25.8 0 1,0 -40.4,0 Z M244.4,244.6 a14.5,20 0 1,0 29,0 a14.5,20 0 1,0 -29,0 Z" transform="rotate(17.5 258.7 244.4)"/>
</g>
<g id="p14">
<path fill="#111" fill-rule="evenodd" d="M684.8,298.5 a11.2,5 0 1,0 22.4,0 a11.2,5 0 1,0 -22.4,0 Z M691,298.5 a5,1.7 0 1,0 10,0 a5,1.7 0 1,0 -10,0 Z"/>
</g>
<g id="p18">
<path fill="#111" fill-rule="evenodd" d="M804.75,516.8 a16.3,22.5 0 1,0 32.6,0 a16.3,22.5 0 1,0 -32.6,0 Z M810.2,516.6 a10.8,16.7 0 1,0 21.6,0 a10.8,16.7 0 1,0 -21.6,0 Z" transform="rotate(24 821 516.8)"/>
</g>
<!-- PRODUCT BOX -->
<rect x="17.6" y="705.5" width="418.4" height="98.2" fill="#fff" stroke="#a2a2a2" stroke-width="1.5"/>
<g id="products"><g transform="translate(0 0)">
<ellipse cx="72" cy="794" rx="46" ry="4.5" fill="#f2f2f2"/>
<path d="M27.5,732 C27.5,729 30,728.5 33,728.5 L40,729 L40,752 L31,752 C28.5,752 27.5,750 27.5,748 Z" fill="#2e2e2e"/>
<path d="M90,737 L98,735.5 C108,737 116,739 120,742 C125,746 126,755 124,762 C122,767 118,769.5 113,769.5 L100,770 Z" fill="#303030"/>
<path d="M112,742 C117,745 119,752 118,760 C117,765 115,768 112,769" stroke="#4a4a4a" stroke-width="1.2" fill="none"/>
<path d="M39.8,774 L66,787 L80.5,792 L104,787 L111,776 L108,768 L60,775 Z" fill="#1e1e1e"/>
<path d="M64,716 C80,716 92,722 97,735 C101,748 100,762 96,772 C90,782 80,787 68,787 C52,787 40,780 35,768 C30,756 31,738 38,728 C44,720 54,716 64,716 Z" fill="#262626"/>
<path d="M36,740 C34,750 35,762 40,772" stroke="#6a6a6a" stroke-width="1.2" fill="none"/>
<path d="M88,725 C94,732 98,745 97,760" stroke="#444" stroke-width="1.5" fill="none"/>
<ellipse cx="101" cy="764" rx="4.5" ry="9.5" fill="#3c3c3c" transform="rotate(-8 101 764)"/>
<path d="M46,725.6 C58,726 72,728 81,731.5 C85,733 87,737 86.5,744 C86,754 83,765 79,772 C77,775 74,775.5 70,775 C60,774 50,772 43,769.5 C40,768 39,765 38.8,760 C38.5,752 38.8,742 40,733 C41,728 43,725.6 46,725.6 Z" fill="#e3c82c"/>
<circle cx="57.5" cy="728.4" r="1.35" fill="#efe3a0"/><circle cx="64.1" cy="731.6" r="1.35" fill="#efe3a0"/><circle cx="50.9" cy="735.0" r="1.35" fill="#efe3a0"/><circle cx="70.7" cy="738.8" r="1.35" fill="#efe3a0"/><circle cx="46.5" cy="755.3" r="1.35" fill="#efe3a0"/><circle cx="60.8" cy="758.6" r="1.35" fill="#efe3a0"/><circle cx="50.9" cy="765.2" r="1.35" fill="#efe3a0"/><circle cx="71.8" cy="765.2" r="1.35" fill="#efe3a0"/><circle cx="68.5" cy="769.6" r="1.35" fill="#efe3a0"/><circle cx="55.3" cy="774.0" r="1.35" fill="#efe3a0"/><circle cx="54.2" cy="728.4" r="1.45" fill="#2a2410"/><circle cx="60.8" cy="728.4" r="1.45" fill="#2a2410"/><circle cx="67.4" cy="728.4" r="1.45" fill="#2a2410"/><circle cx="50.9" cy="731.6" r="1.45" fill="#2a2410"/><circle cx="57.5" cy="731.6" r="1.45" fill="#2a2410"/><circle cx="64.1" cy="731.6" r="1.45" fill="#2a2410"/><circle cx="70.7" cy="731.6" r="1.45" fill="#2a2410"/><circle cx="47.6" cy="735.0" r="1.45" fill="#2a2410"/><circle cx="54.2" cy="735.0" r="1.45" fill="#2a2410"/><circle cx="60.8" cy="735.0" r="1.45" fill="#2a2410"/><circle cx="67.4" cy="735.0" r="1.45" fill="#2a2410"/><circle cx="74.0" cy="735.0" r="1.45" fill="#2a2410"/><circle cx="80.6" cy="735.0" r="1.45" fill="#2a2410"/><circle cx="46.5" cy="738.8" r="1.45" fill="#2a2410"/><circle cx="53.1" cy="738.8" r="1.45" fill="#2a2410"/><circle cx="75.1" cy="738.8" r="1.45" fill="#2a2410"/><circle cx="81.7" cy="738.8" r="1.45" fill="#2a2410"/><circle cx="43.2" cy="752.0" r="1.45" fill="#2a2410"/><circle cx="49.8" cy="752.0" r="1.45" fill="#2a2410"/><circle cx="42.1" cy="755.3" r="1.45" fill="#2a2410"/><circle cx="47.6" cy="755.3" r="1.45" fill="#2a2410"/><circle cx="54.2" cy="755.3" r="1.45" fill="#2a2410"/><circle cx="44.3" cy="758.6" r="1.45" fill="#2a2410"/><circle cx="50.9" cy="758.6" r="1.45" fill="#2a2410"/><circle cx="57.5" cy="758.6" r="1.45" fill="#2a2410"/><circle cx="46.5" cy="761.9" r="1.45" fill="#2a2410"/><circle cx="53.1" cy="761.9" r="1.45" fill="#2a2410"/><circle cx="59.7" cy="761.9" r="1.45" fill="#2a2410"/><circle cx="66.3" cy="761.9" r="1.45" fill="#2a2410"/><circle cx="48.7" cy="765.2" r="1.45" fill="#2a2410"/><circle cx="55.3" cy="765.2" r="1.45" fill="#2a2410"/><circle cx="61.9" cy="765.2" r="1.45" fill="#2a2410"/><circle cx="68.5" cy="765.2" r="1.45" fill="#2a2410"/><circle cx="52.0" cy="768.5" r="1.45" fill="#2a2410"/><circle cx="58.6" cy="768.5" r="1.45" fill="#2a2410"/><circle cx="65.2" cy="768.5" r="1.45" fill="#2a2410"/><circle cx="56.4" cy="771.8" r="1.45" fill="#2a2410"/><circle cx="63.0" cy="771.8" r="1.45" fill="#2a2410"/>
<g transform="translate(47 748) rotate(12)"><text x="0" y="0" textLength="31" lengthAdjust="spacingAndGlyphs" style="font-size:9.5px;font-weight:bold;fill:#4a4430">CRESSI</text>
<text x="7" y="6" textLength="20" lengthAdjust="spacingAndGlyphs" style="font-size:4.5px;font-weight:bold;fill:#6a5a20">XS COMPACT</text></g>
</g><g transform="translate(101 0)">
<ellipse cx="72" cy="794" rx="46" ry="4.5" fill="#f2f2f2"/>
<path d="M27.5,732 C27.5,729 30,728.5 33,728.5 L40,729 L40,752 L31,752 C28.5,752 27.5,750 27.5,748 Z" fill="#2e2e2e"/>
<path d="M90,737 L98,735.5 C108,737 116,739 120,742 C125,746 126,755 124,762 C122,767 118,769.5 113,769.5 L100,770 Z" fill="#303030"/>
<path d="M112,742 C117,745 119,752 118,760 C117,765 115,768 112,769" stroke="#4a4a4a" stroke-width="1.2" fill="none"/>
<path d="M39.8,774 L66,787 L80.5,792 L104,787 L111,776 L108,768 L60,775 Z" fill="#1e1e1e"/>
<path d="M64,716 C80,716 92,722 97,735 C101,748 100,762 96,772 C90,782 80,787 68,787 C52,787 40,780 35,768 C30,756 31,738 38,728 C44,720 54,716 64,716 Z" fill="#262626"/>
<path d="M36,740 C34,750 35,762 40,772" stroke="#6a6a6a" stroke-width="1.2" fill="none"/>
<path d="M88,725 C94,732 98,745 97,760" stroke="#444" stroke-width="1.5" fill="none"/>
<ellipse cx="101" cy="764" rx="4.5" ry="9.5" fill="#3c3c3c" transform="rotate(-8 101 764)"/>
<path d="M46,725.6 C58,726 72,728 81,731.5 C85,733 87,737 86.5,744 C86,754 83,765 79,772 C77,775 74,775.5 70,775 C60,774 50,772 43,769.5 C40,768 39,765 38.8,760 C38.5,752 38.8,742 40,733 C41,728 43,725.6 46,725.6 Z" fill="#4d4d4d"/>
<circle cx="57.5" cy="728.4" r="1.35" fill="#5c5c5c"/><circle cx="64.1" cy="731.6" r="1.35" fill="#5c5c5c"/><circle cx="50.9" cy="735.0" r="1.35" fill="#5c5c5c"/><circle cx="70.7" cy="738.8" r="1.35" fill="#5c5c5c"/><circle cx="46.5" cy="755.3" r="1.35" fill="#5c5c5c"/><circle cx="60.8" cy="758.6" r="1.35" fill="#5c5c5c"/><circle cx="50.9" cy="765.2" r="1.35" fill="#5c5c5c"/><circle cx="71.8" cy="765.2" r="1.35" fill="#5c5c5c"/><circle cx="68.5" cy="769.6" r="1.35" fill="#5c5c5c"/><circle cx="55.3" cy="774.0" r="1.35" fill="#5c5c5c"/><circle cx="54.2" cy="728.4" r="1.45" fill="#242424"/><circle cx="60.8" cy="728.4" r="1.45" fill="#242424"/><circle cx="67.4" cy="728.4" r="1.45" fill="#242424"/><circle cx="50.9" cy="731.6" r="1.45" fill="#242424"/><circle cx="57.5" cy="731.6" r="1.45" fill="#242424"/><circle cx="64.1" cy="731.6" r="1.45" fill="#242424"/><circle cx="70.7" cy="731.6" r="1.45" fill="#242424"/><circle cx="47.6" cy="735.0" r="1.45" fill="#242424"/><circle cx="54.2" cy="735.0" r="1.45" fill="#242424"/><circle cx="60.8" cy="735.0" r="1.45" fill="#242424"/><circle cx="67.4" cy="735.0" r="1.45" fill="#242424"/><circle cx="74.0" cy="735.0" r="1.45" fill="#242424"/><circle cx="80.6" cy="735.0" r="1.45" fill="#242424"/><circle cx="46.5" cy="738.8" r="1.45" fill="#242424"/><circle cx="53.1" cy="738.8" r="1.45" fill="#242424"/><circle cx="75.1" cy="738.8" r="1.45" fill="#242424"/><circle cx="81.7" cy="738.8" r="1.45" fill="#242424"/><circle cx="43.2" cy="752.0" r="1.45" fill="#242424"/><circle cx="49.8" cy="752.0" r="1.45" fill="#242424"/><circle cx="42.1" cy="755.3" r="1.45" fill="#242424"/><circle cx="47.6" cy="755.3" r="1.45" fill="#242424"/><circle cx="54.2" cy="755.3" r="1.45" fill="#242424"/><circle cx="44.3" cy="758.6" r="1.45" fill="#242424"/><circle cx="50.9" cy="758.6" r="1.45" fill="#242424"/><circle cx="57.5" cy="758.6" r="1.45" fill="#242424"/><circle cx="46.5" cy="761.9" r="1.45" fill="#242424"/><circle cx="53.1" cy="761.9" r="1.45" fill="#242424"/><circle cx="59.7" cy="761.9" r="1.45" fill="#242424"/><circle cx="66.3" cy="761.9" r="1.45" fill="#242424"/><circle cx="48.7" cy="765.2" r="1.45" fill="#242424"/><circle cx="55.3" cy="765.2" r="1.45" fill="#242424"/><circle cx="61.9" cy="765.2" r="1.45" fill="#242424"/><circle cx="68.5" cy="765.2" r="1.45" fill="#242424"/><circle cx="52.0" cy="768.5" r="1.45" fill="#242424"/><circle cx="58.6" cy="768.5" r="1.45" fill="#242424"/><circle cx="65.2" cy="768.5" r="1.45" fill="#242424"/><circle cx="56.4" cy="771.8" r="1.45" fill="#242424"/><circle cx="63.0" cy="771.8" r="1.45" fill="#242424"/>
<g transform="translate(47 748) rotate(12)"><text x="0" y="0" textLength="31" lengthAdjust="spacingAndGlyphs" style="font-size:9.5px;font-weight:bold;fill:#f0f0f0">CRESSI</text>
<text x="7" y="6" textLength="20" lengthAdjust="spacingAndGlyphs" style="font-size:4.5px;font-weight:bold;fill:#b04040">XS COMPACT</text></g>
</g><g transform="translate(201 0)">
<ellipse cx="72" cy="794" rx="46" ry="4.5" fill="#f2f2f2"/>
<path d="M27.5,732 C27.5,729 30,728.5 33,728.5 L40,729 L40,752 L31,752 C28.5,752 27.5,750 27.5,748 Z" fill="#2e2e2e"/>
<path d="M90,737 L98,735.5 C108,737 116,739 120,742 C125,746 126,755 124,762 C122,767 118,769.5 113,769.5 L100,770 Z" fill="#303030"/>
<path d="M112,742 C117,745 119,752 118,760 C117,765 115,768 112,769" stroke="#4a4a4a" stroke-width="1.2" fill="none"/>
<path d="M39.8,774 L66,787 L80.5,792 L104,787 L111,776 L108,768 L60,775 Z" fill="#1e1e1e"/>
<path d="M64,716 C80,716 92,722 97,735 C101,748 100,762 96,772 C90,782 80,787 68,787 C52,787 40,780 35,768 C30,756 31,738 38,728 C44,720 54,716 64,716 Z" fill="#262626"/>
<path d="M36,740 C34,750 35,762 40,772" stroke="#6a6a6a" stroke-width="1.2" fill="none"/>
<path d="M88,725 C94,732 98,745 97,760" stroke="#444" stroke-width="1.5" fill="none"/>
<ellipse cx="101" cy="764" rx="4.5" ry="9.5" fill="#3c3c3c" transform="rotate(-8 101 764)"/>
<path d="M46,725.6 C58,726 72,728 81,731.5 C85,733 87,737 86.5,744 C86,754 83,765 79,772 C77,775 74,775.5 70,775 C60,774 50,772 43,769.5 C40,768 39,765 38.8,760 C38.5,752 38.8,742 40,733 C41,728 43,725.6 46,725.6 Z" fill="#dc6aa2"/>
<circle cx="57.5" cy="728.4" r="1.35" fill="#f0b0d0"/><circle cx="64.1" cy="731.6" r="1.35" fill="#f0b0d0"/><circle cx="50.9" cy="735.0" r="1.35" fill="#f0b0d0"/><circle cx="70.7" cy="738.8" r="1.35" fill="#f0b0d0"/><circle cx="46.5" cy="755.3" r="1.35" fill="#f0b0d0"/><circle cx="60.8" cy="758.6" r="1.35" fill="#f0b0d0"/><circle cx="50.9" cy="765.2" r="1.35" fill="#f0b0d0"/><circle cx="71.8" cy="765.2" r="1.35" fill="#f0b0d0"/><circle cx="68.5" cy="769.6" r="1.35" fill="#f0b0d0"/><circle cx="55.3" cy="774.0" r="1.35" fill="#f0b0d0"/><circle cx="54.2" cy="728.4" r="1.45" fill="#5a1838"/><circle cx="60.8" cy="728.4" r="1.45" fill="#5a1838"/><circle cx="67.4" cy="728.4" r="1.45" fill="#5a1838"/><circle cx="50.9" cy="731.6" r="1.45" fill="#5a1838"/><circle cx="57.5" cy="731.6" r="1.45" fill="#5a1838"/><circle cx="64.1" cy="731.6" r="1.45" fill="#5a1838"/><circle cx="70.7" cy="731.6" r="1.45" fill="#5a1838"/><circle cx="47.6" cy="735.0" r="1.45" fill="#5a1838"/><circle cx="54.2" cy="735.0" r="1.45" fill="#5a1838"/><circle cx="60.8" cy="735.0" r="1.45" fill="#5a1838"/><circle cx="67.4" cy="735.0" r="1.45" fill="#5a1838"/><circle cx="74.0" cy="735.0" r="1.45" fill="#5a1838"/><circle cx="80.6" cy="735.0" r="1.45" fill="#5a1838"/><circle cx="46.5" cy="738.8" r="1.45" fill="#5a1838"/><circle cx="53.1" cy="738.8" r="1.45" fill="#5a1838"/><circle cx="75.1" cy="738.8" r="1.45" fill="#5a1838"/><circle cx="81.7" cy="738.8" r="1.45" fill="#5a1838"/><circle cx="43.2" cy="752.0" r="1.45" fill="#5a1838"/><circle cx="49.8" cy="752.0" r="1.45" fill="#5a1838"/><circle cx="42.1" cy="755.3" r="1.45" fill="#5a1838"/><circle cx="47.6" cy="755.3" r="1.45" fill="#5a1838"/><circle cx="54.2" cy="755.3" r="1.45" fill="#5a1838"/><circle cx="44.3" cy="758.6" r="1.45" fill="#5a1838"/><circle cx="50.9" cy="758.6" r="1.45" fill="#5a1838"/><circle cx="57.5" cy="758.6" r="1.45" fill="#5a1838"/><circle cx="46.5" cy="761.9" r="1.45" fill="#5a1838"/><circle cx="53.1" cy="761.9" r="1.45" fill="#5a1838"/><circle cx="59.7" cy="761.9" r="1.45" fill="#5a1838"/><circle cx="66.3" cy="761.9" r="1.45" fill="#5a1838"/><circle cx="48.7" cy="765.2" r="1.45" fill="#5a1838"/><circle cx="55.3" cy="765.2" r="1.45" fill="#5a1838"/><circle cx="61.9" cy="765.2" r="1.45" fill="#5a1838"/><circle cx="68.5" cy="765.2" r="1.45" fill="#5a1838"/><circle cx="52.0" cy="768.5" r="1.45" fill="#5a1838"/><circle cx="58.6" cy="768.5" r="1.45" fill="#5a1838"/><circle cx="65.2" cy="768.5" r="1.45" fill="#5a1838"/><circle cx="56.4" cy="771.8" r="1.45" fill="#5a1838"/><circle cx="63.0" cy="771.8" r="1.45" fill="#5a1838"/>
<g transform="translate(47 748) rotate(12)"><text x="0" y="0" textLength="31" lengthAdjust="spacingAndGlyphs" style="font-size:9.5px;font-weight:bold;fill:#fff0f6">CRESSI</text>
<text x="7" y="6" textLength="20" lengthAdjust="spacingAndGlyphs" style="font-size:4.5px;font-weight:bold;fill:#fff">XS COMPACT</text></g>
</g><g transform="translate(302 0)">
<ellipse cx="72" cy="794" rx="46" ry="4.5" fill="#f2f2f2"/>
<path d="M27.5,732 C27.5,729 30,728.5 33,728.5 L40,729 L40,752 L31,752 C28.5,752 27.5,750 27.5,748 Z" fill="#2e2e2e"/>
<path d="M90,737 L98,735.5 C108,737 116,739 120,742 C125,746 126,755 124,762 C122,767 118,769.5 113,769.5 L100,770 Z" fill="#303030"/>
<path d="M112,742 C117,745 119,752 118,760 C117,765 115,768 112,769" stroke="#4a4a4a" stroke-width="1.2" fill="none"/>
<path d="M39.8,774 L66,787 L80.5,792 L104,787 L111,776 L108,768 L60,775 Z" fill="#1e1e1e"/>
<path d="M64,716 C80,716 92,722 97,735 C101,748 100,762 96,772 C90,782 80,787 68,787 C52,787 40,780 35,768 C30,756 31,738 38,728 C44,720 54,716 64,716 Z" fill="#262626"/>
<path d="M36,740 C34,750 35,762 40,772" stroke="#6a6a6a" stroke-width="1.2" fill="none"/>
<path d="M88,725 C94,732 98,745 97,760" stroke="#444" stroke-width="1.5" fill="none"/>
<ellipse cx="101" cy="764" rx="4.5" ry="9.5" fill="#3c3c3c" transform="rotate(-8 101 764)"/>
<path d="M46,725.6 C58,726 72,728 81,731.5 C85,733 87,737 86.5,744 C86,754 83,765 79,772 C77,775 74,775.5 70,775 C60,774 50,772 43,769.5 C40,768 39,765 38.8,760 C38.5,752 38.8,742 40,733 C41,728 43,725.6 46,725.6 Z" fill="#eef1f3"/>
<circle cx="57.5" cy="728.4" r="1.35" fill="#d8dde2"/><circle cx="64.1" cy="731.6" r="1.35" fill="#d8dde2"/><circle cx="50.9" cy="735.0" r="1.35" fill="#d8dde2"/><circle cx="70.7" cy="738.8" r="1.35" fill="#d8dde2"/><circle cx="46.5" cy="755.3" r="1.35" fill="#d8dde2"/><circle cx="60.8" cy="758.6" r="1.35" fill="#d8dde2"/><circle cx="50.9" cy="765.2" r="1.35" fill="#d8dde2"/><circle cx="71.8" cy="765.2" r="1.35" fill="#d8dde2"/><circle cx="68.5" cy="769.6" r="1.35" fill="#d8dde2"/><circle cx="55.3" cy="774.0" r="1.35" fill="#d8dde2"/><circle cx="54.2" cy="728.4" r="1.45" fill="#2a2a2a"/><circle cx="60.8" cy="728.4" r="1.45" fill="#2a2a2a"/><circle cx="67.4" cy="728.4" r="1.45" fill="#2a2a2a"/><circle cx="50.9" cy="731.6" r="1.45" fill="#2a2a2a"/><circle cx="57.5" cy="731.6" r="1.45" fill="#2a2a2a"/><circle cx="64.1" cy="731.6" r="1.45" fill="#2a2a2a"/><circle cx="70.7" cy="731.6" r="1.45" fill="#2a2a2a"/><circle cx="47.6" cy="735.0" r="1.45" fill="#2a2a2a"/><circle cx="54.2" cy="735.0" r="1.45" fill="#2a2a2a"/><circle cx="60.8" cy="735.0" r="1.45" fill="#2a2a2a"/><circle cx="67.4" cy="735.0" r="1.45" fill="#2a2a2a"/><circle cx="74.0" cy="735.0" r="1.45" fill="#2a2a2a"/><circle cx="80.6" cy="735.0" r="1.45" fill="#2a2a2a"/><circle cx="46.5" cy="738.8" r="1.45" fill="#2a2a2a"/><circle cx="53.1" cy="738.8" r="1.45" fill="#2a2a2a"/><circle cx="75.1" cy="738.8" r="1.45" fill="#2a2a2a"/><circle cx="81.7" cy="738.8" r="1.45" fill="#2a2a2a"/><circle cx="43.2" cy="752.0" r="1.45" fill="#2a2a2a"/><circle cx="49.8" cy="752.0" r="1.45" fill="#2a2a2a"/><circle cx="42.1" cy="755.3" r="1.45" fill="#2a2a2a"/><circle cx="47.6" cy="755.3" r="1.45" fill="#2a2a2a"/><circle cx="54.2" cy="755.3" r="1.45" fill="#2a2a2a"/><circle cx="44.3" cy="758.6" r="1.45" fill="#2a2a2a"/><circle cx="50.9" cy="758.6" r="1.45" fill="#2a2a2a"/><circle cx="57.5" cy="758.6" r="1.45" fill="#2a2a2a"/><circle cx="46.5" cy="761.9" r="1.45" fill="#2a2a2a"/><circle cx="53.1" cy="761.9" r="1.45" fill="#2a2a2a"/><circle cx="59.7" cy="761.9" r="1.45" fill="#2a2a2a"/><circle cx="66.3" cy="761.9" r="1.45" fill="#2a2a2a"/><circle cx="48.7" cy="765.2" r="1.45" fill="#2a2a2a"/><circle cx="55.3" cy="765.2" r="1.45" fill="#2a2a2a"/><circle cx="61.9" cy="765.2" r="1.45" fill="#2a2a2a"/><circle cx="68.5" cy="765.2" r="1.45" fill="#2a2a2a"/><circle cx="52.0" cy="768.5" r="1.45" fill="#2a2a2a"/><circle cx="58.6" cy="768.5" r="1.45" fill="#2a2a2a"/><circle cx="65.2" cy="768.5" r="1.45" fill="#2a2a2a"/><circle cx="56.4" cy="771.8" r="1.45" fill="#2a2a2a"/><circle cx="63.0" cy="771.8" r="1.45" fill="#2a2a2a"/>
<g transform="translate(47 748) rotate(12)"><text x="0" y="0" textLength="31" lengthAdjust="spacingAndGlyphs" style="font-size:9.5px;font-weight:bold;fill:#9aa0a8">CRESSI</text>
<text x="7" y="6" textLength="20" lengthAdjust="spacingAndGlyphs" style="font-size:4.5px;font-weight:bold;fill:#4a80c0">XS COMPACT</text></g>
</g></g>
<!-- TABLE -->
<g id="table">
<rect x="159" y="869.6" width="188" height="32.8" fill="#e2e2e4"/>
<path d="M290,903 L290,891.8 L341,891.8 Q345,891.8 345.5,896 L345.5,903 Z" fill="#fff"/>
<rect x="207.2" y="871" width="1.8" height="31" fill="#8a8a8a"/>
<text x="162" y="888" textLength="41" lengthAdjust="spacingAndGlyphs" style="font-size:12.4px;font-weight:bold;fill:#3a3a3a">CODIGO</text>
<text x="189" y="902" textLength="14" lengthAdjust="spacingAndGlyphs" style="font-size:15px;fill:#4a4a4a">25</text>
<text x="217" y="888" textLength="70" lengthAdjust="spacingAndGlyphs" style="font-size:12.4px;font-weight:bold;fill:#3a3a3a">REFERENCIA</text>
<text x="217" y="902" textLength="73" lengthAdjust="spacingAndGlyphs" style="font-size:15px;fill:#4a4a4a">EHZ 780066</text>
<text x="294" y="902" textLength="42" lengthAdjust="spacingAndGlyphs" style="font-size:8.5px;fill:#3a3a3a">(Amarillo)</text>
</g>
</svg>
</body></html>
